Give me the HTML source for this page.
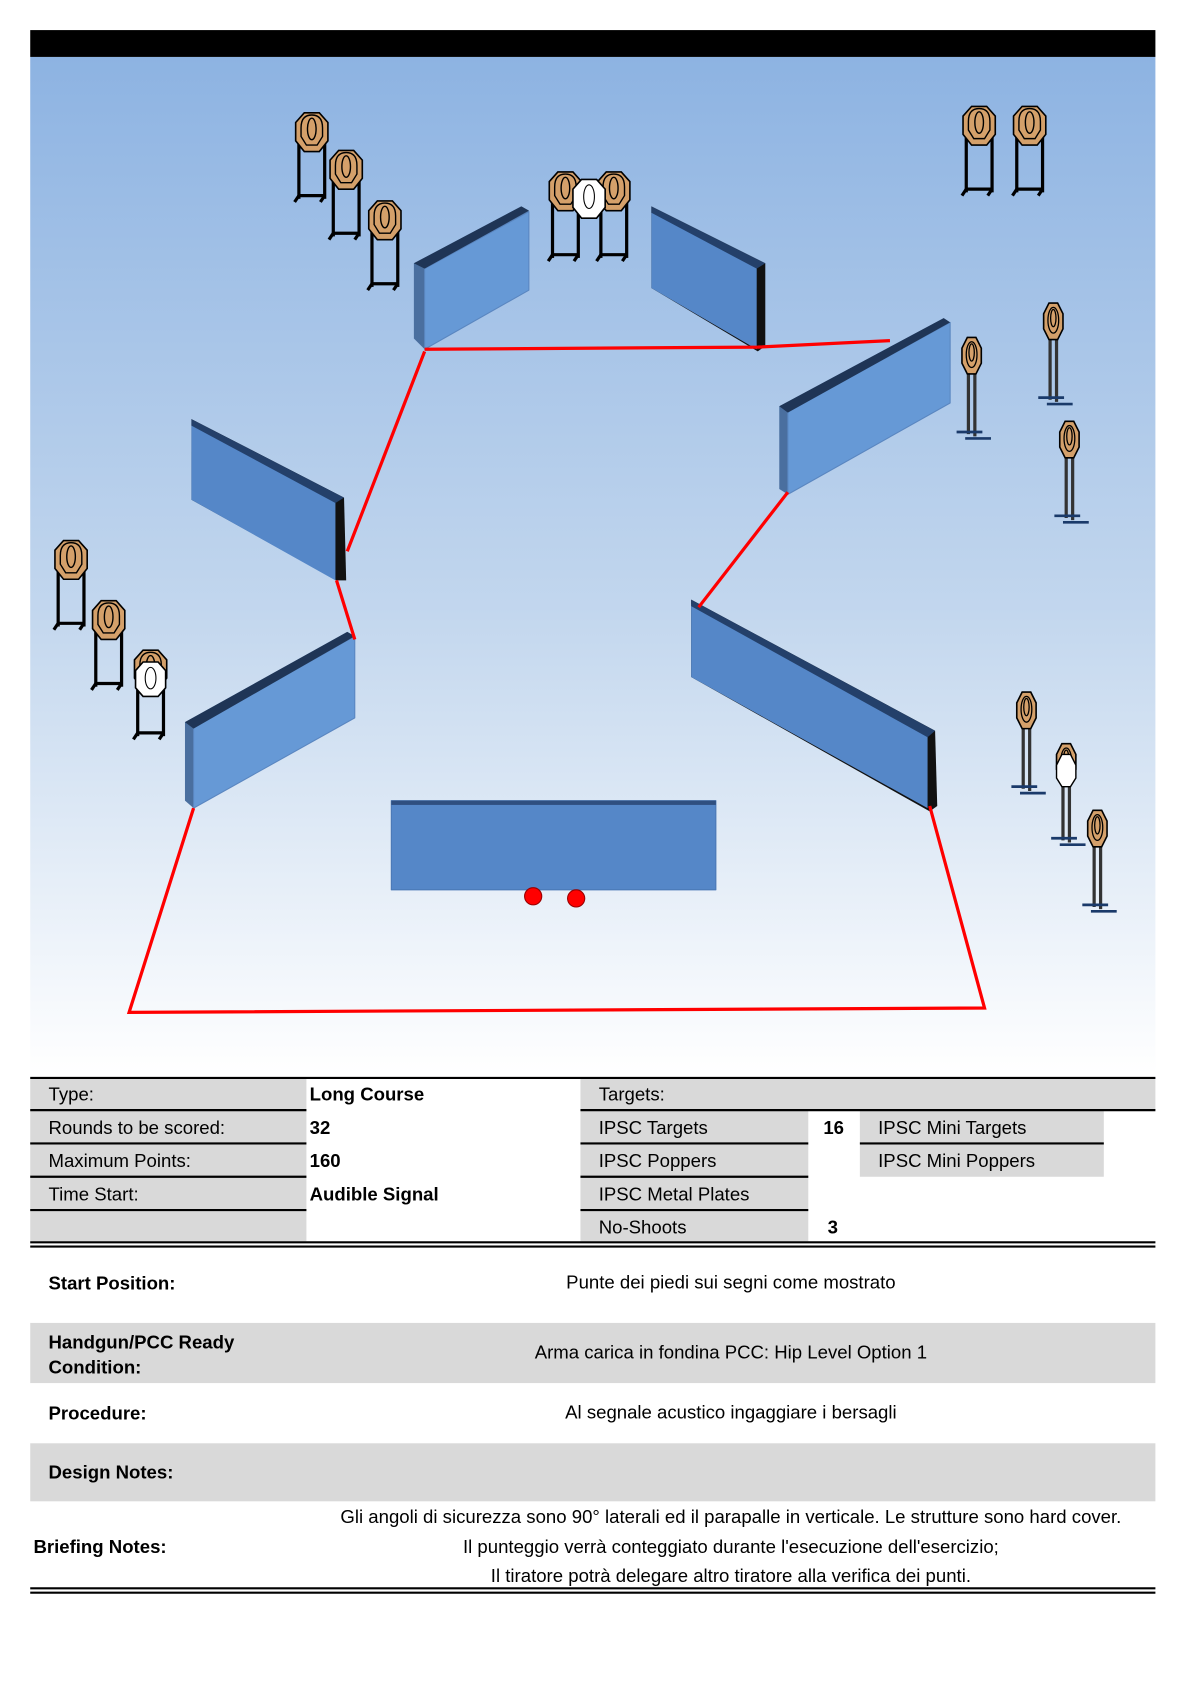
<!DOCTYPE html>
<html><head><meta charset="utf-8"><style>html,body{margin:0;padding:0;background:#fff}svg{display:block}</style></head>
<body>
<svg width="1191" height="1684" viewBox="0 0 1108 1567" xmlns="http://www.w3.org/2000/svg" font-family="Liberation Sans, Arial, sans-serif">
<defs>
<linearGradient id="bg" x1="0" y1="0" x2="0" y2="1"><stop offset="0" stop-color="#8db3e2"/><stop offset="0.55" stop-color="#c3d7ee"/><stop offset="1" stop-color="#ffffff"/></linearGradient>
<g id="tw">
<line x1="-12" y1="5" x2="-12" y2="62" stroke="#000" stroke-width="3"/><line x1="12" y1="5" x2="12" y2="62" stroke="#000" stroke-width="3"/>
<line x1="-12" y1="59" x2="12" y2="59" stroke="#000" stroke-width="3"/>
<line x1="-12" y1="59" x2="-16" y2="65" stroke="#000" stroke-width="3"/><line x1="12" y1="59" x2="8" y2="65" stroke="#000" stroke-width="3"/>
<polygon points="-7,-18 7,-18 15,-9 15,8 7,18 -7,18 -15,8 -15,-9" fill="#d4a06a" stroke="#000" stroke-width="1.5"/>
<path d="M-10,-4 C-10,-14 -5,-16 0,-16 C5,-16 10,-14 10,-4 L10,4 L5,12 L-5,12 L-10,4Z" fill="none" stroke="#000" stroke-width="1.3"/>
<ellipse cx="0" cy="-3" rx="4" ry="10" fill="none" stroke="#000" stroke-width="1.3"/>
</g>
<g id="tn">
<line x1="-3" y1="5" x2="-3" y2="72" stroke="#333" stroke-width="3"/><line x1="3" y1="5" x2="3" y2="74" stroke="#333" stroke-width="3"/>
<line x1="-14" y1="70" x2="10" y2="70" stroke="#1a3a6a" stroke-width="2.5"/><line x1="-6" y1="76" x2="18" y2="76" stroke="#1a3a6a" stroke-width="2.5"/>
<polygon points="-4,-18 4,-18 9,-8 9,6 4,16 -4,16 -9,6 -9,-8" fill="#d4a06a" stroke="#000" stroke-width="1.5"/>
<ellipse cx="0" cy="-2" rx="5" ry="12" fill="none" stroke="#000" stroke-width="1.2"/>
<ellipse cx="0" cy="-4" rx="2.5" ry="8" fill="none" stroke="#000" stroke-width="1.2"/>
</g>
</defs>
<rect x="28" y="28" width="1047" height="25" fill="#000"/>
<rect x="28" y="53" width="1047" height="947" fill="url(#bg)"/>

<use href="#tw" x="290" y="123"/><use href="#tw" x="322" y="158"/><use href="#tw" x="358" y="205"/>
<use href="#tw" x="526" y="178"/><use href="#tw" x="571" y="178"/>
<g transform="translate(548,185)"><polygon points="-7,-18 7,-18 15,-9 15,8 7,18 -7,18 -15,8 -15,-9" fill="#fff" stroke="#000" stroke-width="1.5"/><ellipse cx="0" cy="-2" rx="5" ry="11" fill="none" stroke="#000"/></g>
<use href="#tw" x="911" y="117"/><use href="#tw" x="958" y="117"/>
<use href="#tn" x="904" y="332"/><use href="#tn" x="980" y="300"/><use href="#tn" x="995" y="410"/>
<use href="#tn" x="955" y="662"/><use href="#tn" x="992" y="710"/><use href="#tn" x="1021" y="772"/>
<g transform="translate(992,718)"><polygon points="-4,-16 4,-16 9,-6 9,6 4,14 -4,14 -9,6 -9,-6" fill="#fff" stroke="#000" stroke-width="1.3"/></g>
<use href="#tw" x="66" y="521"/><use href="#tw" x="101" y="577"/><use href="#tw" x="140" y="623"/>
<g transform="translate(140,632)"><polygon points="-7,-16 7,-16 14,-8 14,8 7,16 -7,16 -14,8 -14,-8" fill="#fff" stroke="#000" stroke-width="1.5"/><ellipse cx="0" cy="-1" rx="5" ry="10" fill="none" stroke="#000"/></g>

<g stroke-linejoin="round">
<polygon points="385,245 485,192 492,196 492,270 395,325 385,315" fill="#4a6f9f"/>
<polygon points="395,250 492,197 492,270 395,325" fill="#6699d6" stroke="#5a86c0"/>
<polygon points="385,245 485,192 492,196 395,250" fill="#1f3556"/>

<polygon points="606,192 712,245 712,322 705,327 606,268" fill="#111"/>
<polygon points="606,196 704,248 704,325 606,268" fill="#5587c8"/>
<polygon points="606,192 712,245 704,250 606,198" fill="#24406a"/>

<polygon points="725,378 878,296 884,300 884,375 733,460 725,455" fill="#4a6f9f"/>
<polygon points="733,383 884,300 884,375 733,460" fill="#6699d6" stroke="#5a86c0"/>
<polygon points="725,378 878,296 884,300 733,384" fill="#1f3556"/>

<polygon points="178,390 320,463 322,540 313,540 178,465" fill="#111"/>
<polygon points="178,394 312,467 312,540 178,465" fill="#5587c8"/>
<polygon points="178,390 320,463 312,468 178,396" fill="#24406a"/>

<polygon points="172,672 323,588 330,592 330,668 180,752 172,745" fill="#4a6f9f"/>
<polygon points="180,677 330,592 330,668 180,752" fill="#6699d6" stroke="#5a86c0"/>
<polygon points="172,672 323,588 330,592 180,678" fill="#1f3556"/>

<polygon points="643,558 870,680 872,750 865,755 643,630" fill="#111"/>
<polygon points="643,562 863,684 863,752 643,630" fill="#5587c8"/>
<polygon points="643,558 870,680 863,686 643,564" fill="#24406a"/>

<rect x="364" y="745" width="302" height="83" fill="#5587c8" stroke="#4a78b5"/>
<rect x="364" y="745" width="302" height="4" fill="#2f4f80"/>
</g>

<g stroke="#f00" stroke-width="3" fill="none">
<polyline points="395,325 705,323 828,317"/>
<line x1="395" y1="327" x2="323" y2="513"/>
<line x1="313" y1="540" x2="330" y2="595"/>
<line x1="733" y1="458" x2="650" y2="565"/>
<polyline points="180,752 120,942 916,938 865,750"/>
</g>
<circle cx="496" cy="834" r="8" fill="#f00" stroke="#900"/><circle cx="536" cy="836" r="8" fill="#f00" stroke="#900"/>

<g fill="#d9d9d9">
<rect x="28" y="1003" width="257" height="152"/>
<rect x="540" y="1003" width="535" height="30"/>
<rect x="540" y="1033" width="212" height="122"/>
<rect x="800" y="1033" width="227" height="62"/>
<rect x="28" y="1231" width="1047" height="56"/>
<rect x="28" y="1343" width="1047" height="54"/>
</g>
<g stroke="#000" stroke-width="2">
<line x1="28" y1="1003" x2="1075" y2="1003"/>
<line x1="28" y1="1033" x2="285" y2="1033"/><line x1="28" y1="1064" x2="285" y2="1064"/><line x1="28" y1="1095" x2="285" y2="1095"/><line x1="28" y1="1126" x2="285" y2="1126"/>
<line x1="540" y1="1033" x2="1075" y2="1033"/>
<line x1="540" y1="1064" x2="752" y2="1064"/><line x1="540" y1="1095" x2="752" y2="1095"/><line x1="540" y1="1126" x2="752" y2="1126"/>
<line x1="800" y1="1064" x2="1027" y2="1064"/>
<line x1="28" y1="1156" x2="1075" y2="1156"/><line x1="28" y1="1160" x2="1075" y2="1160"/>
<line x1="28" y1="1478" x2="1075" y2="1478"/><line x1="28" y1="1482" x2="1075" y2="1482"/>
</g>
<g font-size="17.3" fill="#000">
<text x="45" y="1024">Type:</text>
<text x="45" y="1055">Rounds to be scored:</text>
<text x="45" y="1086">Maximum Points:</text>
<text x="45" y="1117">Time Start:</text>
<g font-weight="bold">
<text x="288" y="1024">Long Course</text><text x="288" y="1055">32</text><text x="288" y="1086">160</text><text x="288" y="1117">Audible Signal</text>
<text x="766" y="1055">16</text><text x="770" y="1148">3</text>
</g>
<text x="557" y="1024">Targets:</text>
<text x="557" y="1055">IPSC Targets</text><text x="557" y="1086">IPSC Poppers</text><text x="557" y="1117">IPSC Metal Plates</text><text x="557" y="1148">No-Shoots</text>
<text x="817" y="1055">IPSC Mini Targets</text><text x="817" y="1086">IPSC Mini Poppers</text>
<g font-weight="bold">
<text x="45" y="1200">Start Position:</text>
<text x="45" y="1255">Handgun/PCC Ready</text><text x="45" y="1278">Condition:</text>
<text x="45" y="1321">Procedure:</text>
<text x="45" y="1376">Design Notes:</text>
<text x="31" y="1445">Briefing Notes:</text>
</g>
<g text-anchor="middle">
<text x="680" y="1199">Punte dei piedi sui segni come mostrato</text>
<text x="680" y="1264">Arma carica in fondina PCC: Hip Level Option 1</text>
<text x="680" y="1320">Al segnale acustico ingaggiare i bersagli</text>
<text x="680" y="1417">Gli angoli di sicurezza sono 90° laterali ed il parapalle in verticale. Le strutture sono hard cover.</text>
<text x="680" y="1445">Il punteggio verrà conteggiato durante l'esecuzione dell'esercizio;</text>
<text x="680" y="1472">Il tiratore potrà delegare altro tiratore alla verifica dei punti.</text>
</g>
</g>
</svg>
</body></html>
